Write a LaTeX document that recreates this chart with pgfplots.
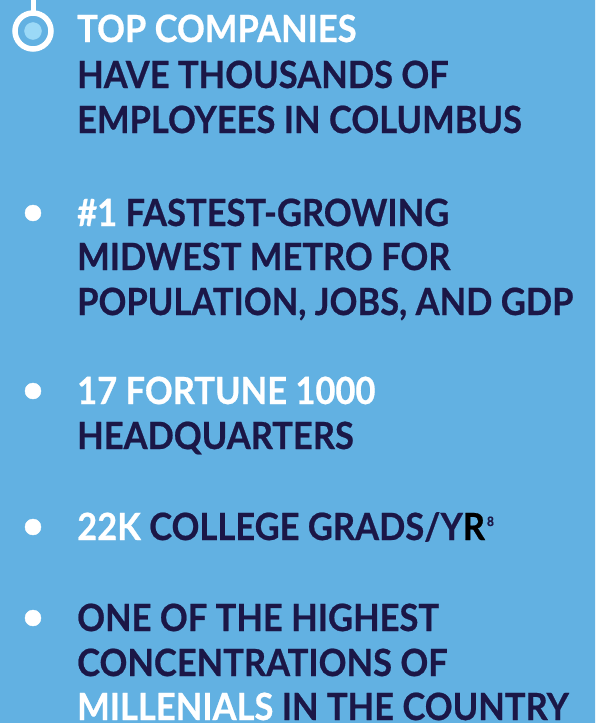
\documentclass[border=0pt]{standalone}
\usepackage{fontspec}
\setmainfont{Lato}[FakeStretch=0.92, BoldFeatures={FakeBold=0.6}]
\usepackage{pgfplots}
\pgfplotsset{compat=1.18}
\definecolor{bgblue}{RGB}{98,177,226}
\definecolor{navy}{RGB}{27,23,71}
\definecolor{dotblue}{RGB}{155,217,247}
\newcommand{\w}[1]{\textcolor{white}{#1}}
\tikzset{line/.style={anchor=base west, inner sep=0pt, text=navy,
  font=\fontsize{37.5}{45}\selectfont\bfseries}}

\begin{document}
\begin{tikzpicture}
\begin{axis}[
  width=595pt, height=723pt, scale only axis,
  xmin=0, xmax=595, ymin=0, ymax=723, y dir=reverse,
  enlargelimits=false, hide axis, clip=true,
]
% background
\addplot[draw=none, fill=bgblue] coordinates {(0,0) (595,0) (595,723) (0,723) (0,0)};
% top marker: stem, ring and inner dot
\addplot[white, line width=5pt] coordinates {(33,0) (33,11)};
\addplot[only marks, mark=o, mark size=18pt, white, mark options={line width=5.5pt}] coordinates {(33,31)};
\addplot[only marks, mark=*, mark size=8.5pt, mark options={draw=dotblue, fill=dotblue}] coordinates {(33,31)};
% bullets
\addplot[only marks, mark=*, mark size=8pt, mark options={draw=white, fill=white}]
  coordinates {(33,213) (33,391) (33,527) (33,618)};

\node[line] at (axis cs:77,42)  {\w{TOP COMPANIES}};
\node[line] at (axis cs:77,88)  {HAVE THOUSANDS OF};
\node[line] at (axis cs:77,133) {EMPLOYEES IN COLUMBUS};

\node[line] at (axis cs:77,226) {\w{\#1} FASTEST-GROWING};
\node[line] at (axis cs:77,270) {MIDWEST METRO FOR};
\node[line] at (axis cs:77,315) {POPULATION, JOBS, AND GDP};

\node[line] at (axis cs:77,404) {\w{17 FORTUNE 1000}};
\node[line] at (axis cs:77,449) {HEADQUARTERS};

\node[line] at (axis cs:77,540) {\w{22K} COLLEGE GRADS/Y\textcolor{black}{R}\kern2pt\raisebox{14pt}{\fontsize{13}{13}\selectfont 8}};

\node[line] at (axis cs:77,631) {ONE OF THE HIGHEST};
\node[line] at (axis cs:77,676) {CONCENTRATIONS OF};
\node[line] at (axis cs:77,720) {\w{MILLENIALS} IN THE COUNTRY};
\end{axis}
\pgfresetboundingbox
\useasboundingbox (current axis.south west) rectangle (current axis.north east);
\end{tikzpicture}
\end{document}
